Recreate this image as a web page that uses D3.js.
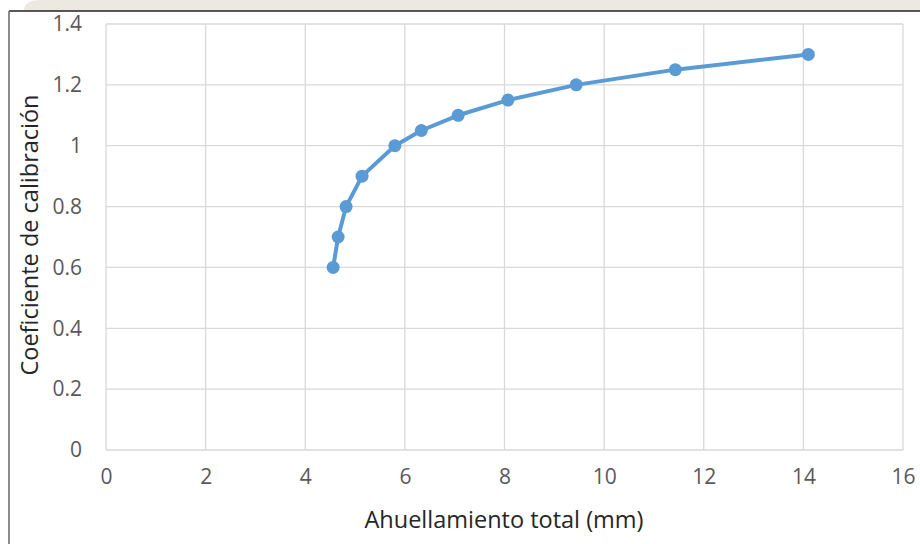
<!DOCTYPE html>
<html>
<head>
<meta charset="utf-8">
<script src="https://cdn.jsdelivr.net/npm/d3@7/dist/d3.min.js"></script>
<style>
  html, body { margin: 0; padding: 0; background: #fff; }
  svg { display: block; }
  text { font-family: "Open Sans", "Noto Sans", sans-serif; }
</style>
</head>
<body>
<svg id="chart" width="920" height="544"></svg>
<script>
// Ahuellamiento total (mm) vs. coeficiente de calibración
const rutting = [4.56, 4.66, 4.82, 5.14, 5.80, 6.33, 7.07, 8.07, 9.44, 11.43, 14.10];
const coefficient = [0.6, 0.7, 0.8, 0.9, 1.0, 1.05, 1.1, 1.15, 1.2, 1.25, 1.3];
const xTicks = [0, 2, 4, 6, 8, 10, 12, 14, 16];
const yTicks = [0, 0.2, 0.4, 0.6, 0.8, 1, 1.2, 1.4];
const xTitle = "Ahuellamiento total (mm)";
const yTitle = "Coeficiente de calibración";

const svg = d3.select("#chart");

// faint band behind the top edge of the frame
const band = svg.append("g");
band.append("rect").attr("x", 24).attr("y", 0).attr("width", 896).attr("height", 11)
  .attr("fill", "#ebe9e2");
band.append("path")
  .attr("d", "M24,11 Q24,0 40,0 L24,0 Z").attr("fill", "#fff");

// outer frame (top and left edges)
svg.append("line").attr("x1", 9).attr("x2", 920).attr("y1", 11).attr("y2", 11)
  .attr("stroke", "#222").attr("stroke-width", 1.5);
svg.append("line").attr("x1", 9).attr("x2", 9).attr("y1", 11).attr("y2", 544)
  .attr("stroke", "#666").attr("stroke-width", 1.5);

const x = d3.scaleLinear().domain([0, 16]).range([106, 903]);
const y = d3.scaleLinear().domain([0, 1.4]).range([450, 24]);

// gridlines
const grid = svg.append("g").attr("stroke", "#d9d9d9").attr("stroke-width", 1.3);
grid.selectAll(".gx").data(xTicks).join("line")
  .attr("x1", d => x(d)).attr("x2", d => x(d))
  .attr("y1", y(1.4)).attr("y2", y(0));
grid.selectAll(".gy").data(yTicks).join("line")
  .attr("x1", x(0)).attr("x2", x(16))
  .attr("y1", d => y(d)).attr("y2", d => y(d));

// axes (labels only)
const xAxis = svg.append("g").attr("transform", `translate(0,${y(0)})`)
  .call(d3.axisBottom(x).tickValues(xTicks).tickSize(0).tickPadding(19).tickFormat(d3.format("d")));
const yAxis = svg.append("g").attr("transform", `translate(${x(0)},0)`)
  .call(d3.axisLeft(y).tickValues(yTicks).tickSize(0).tickPadding(24).tickFormat(d => String(d)));
[xAxis, yAxis].forEach(a => {
  a.select(".domain").remove();
  a.selectAll("text").attr("fill", "#595959").style("font-size", "21px")
    .style("font-family", "'Open Sans', sans-serif");
});

// axis titles
svg.append("text").attr("x", 504).attr("y", 528).attr("text-anchor", "middle")
  .attr("fill", "#262626").style("font-size", "23.5px").text(xTitle);
svg.append("text").attr("transform", `translate(38,235) rotate(-90)`)
  .attr("text-anchor", "middle").attr("fill", "#262626").style("font-size", "23.5px").text(yTitle);

// series
const pts = rutting.map((v, i) => [v, coefficient[i]]);
svg.append("path").datum(pts)
  .attr("fill", "none").attr("stroke", "#5b9bd5").attr("stroke-width", 4)
  .attr("stroke-linejoin", "round").attr("stroke-linecap", "round")
  .attr("d", d3.line().x(d => x(d[0])).y(d => y(d[1])));
svg.append("g").selectAll("circle").data(pts).join("circle")
  .attr("cx", d => x(d[0])).attr("cy", d => y(d[1])).attr("r", 6.5)
  .attr("fill", "#5b9bd5");
</script>
</body>
</html>
